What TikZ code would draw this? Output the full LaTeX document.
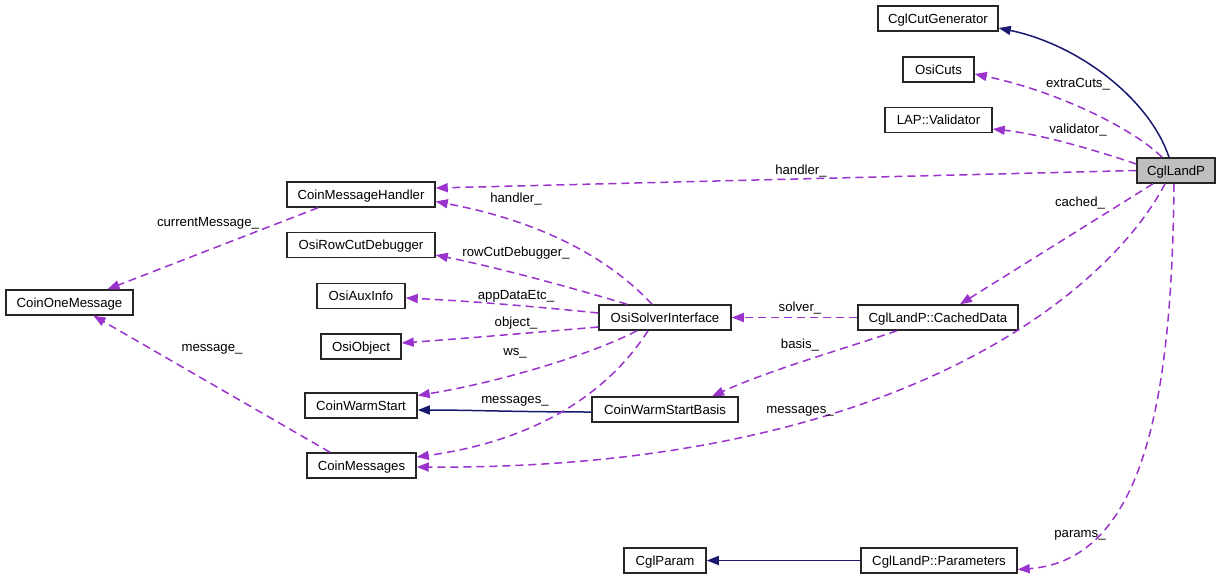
\documentclass[tikz,border=0pt]{standalone}
\usepackage{fontspec}
\setmainfont{Liberation Sans}
\usetikzlibrary{arrows.meta,calc}
\definecolor{edgepurple}{HTML}{9A32CD}
\definecolor{inhnavy}{HTML}{191970}
\definecolor{boxgray}{HTML}{BFBFBF}
\begin{document}
\begin{tikzpicture}[x=1pt,y=-1pt,
  cls/.style={draw=black!85, line width=1.5pt, fill=white, inner sep=0pt,
    minimum height=25pt, text height=11pt, text depth=2pt,
    font=\fontsize{13.2}{15}\selectfont},
  mem/.style={draw=edgepurple, line width=1.5pt, dash pattern=on 8pt off 5pt,
    -{Triangle[length=12pt,width=9pt,fill=edgepurple]}},
  inh/.style={draw=inhnavy, line width=1.5pt,
    -{Triangle[length=12pt,width=9pt,fill=inhnavy]}},
  lbl/.style={font=\fontsize{13.2}{15}\selectfont, inner sep=0pt}]
\useasboundingbox (0,0) rectangle (1221,579);
\fill[white] (0,0) rectangle (1221,579);

% nodes
\node[cls, minimum width=120pt] (CCG) at (938,18.5) {CglCutGenerator};
\node[cls, minimum width=71pt] (OC) at (938.5,69.5) {OsiCuts};
\node[cls, minimum width=107pt] (LAP) at (938.5,120) {LAP::Validator};
\node[cls, minimum width=78pt, fill=boxgray] (CLP) at (1176,170.5) {CglLandP};
\node[cls, minimum width=148pt] (CMH) at (361,194.5) {CoinMessageHandler};
\node[cls, minimum width=148pt] (ORCD) at (361,245) {OsiRowCutDebugger};
\node[cls, minimum width=127pt] (COM) at (69.5,302.5) {CoinOneMessage};
\node[cls, minimum width=88pt] (OAI) at (361,296) {OsiAuxInfo};
\node[cls, minimum width=80pt] (OO) at (361,346.5) {OsiObject};
\node[cls, minimum width=112pt] (CWS) at (361,405.5) {CoinWarmStart};
\node[cls, minimum width=109pt] (CM) at (361.5,465.5) {CoinMessages};
\node[cls, minimum width=132pt] (OSI) at (665,317.5) {OsiSolverInterface};
\node[cls, minimum width=146pt] (CWSB) at (665,409.5) {CoinWarmStartBasis};
\node[cls, minimum width=160pt] (CD) at (938,317.5) {CglLandP::CachedData};
\node[cls, minimum width=82pt] (CP) at (665,560.5) {CglParam};
\node[cls, minimum width=156pt] (PAR) at (939,560.5) {CglLandP::Parameters};

% inheritance edges
\draw[inh] ([xshift=-7pt]CLP.north) .. controls (1150,100) and (1080,45) .. ([yshift=-9.5pt]CCG.east);
\draw[inh] ([yshift=-2.5pt]CWSB.west) .. controls (520,412) and (470,410) .. ([yshift=-4.5pt]CWS.east);
\draw[inh] (PAR.west) -- (CP.east);

% member edges from CglLandP
\draw[mem] ([xshift=-14pt]CLP.north) .. controls (1135,130) and (1060,92) .. ([yshift=-4.5pt]OC.east);
\node[lbl] (lExtra) at (1078,84) {extraCuts\_};
\draw[mem] ([yshift=6.5pt]CLP.west) .. controls (1095,150) and (1040,134) .. ([yshift=-9pt]LAP.east);
\node[lbl] (lValid) at (1078,130) {validator\_};
\draw[mem] (CLP.west) -- ([yshift=6.5pt]CMH.east);
\node[lbl] (lHand1) at (801,171) {handler\_};
\draw[mem] ([xshift=-23pt]CLP.south) -- ([xshift=22pt]CD.north);
\node[lbl] (lCached) at (1080,203) {cached\_};
\draw[mem] ([xshift=-11pt]CLP.south) .. controls (1110,290) and (900,470) .. ([yshift=-1.5pt]CM.east);
\node[lbl] (lMsg1) at (800,411) {messages\_};
\draw[mem] ([xshift=-2pt]CLP.south) .. controls (1172,380) and (1150,560) .. ([yshift=-9pt]PAR.east);
\node[lbl] (lParams) at (1080,535) {params\_};

% CoinOneMessage edges
\draw[mem] ([xshift=-43pt]CMH.south) -- ([xshift=38pt]COM.north);
\node[lbl] (lCur) at (208,223) {currentMessage\_};
\draw[mem] ([xshift=-31.5pt]CM.north) -- ([xshift=24pt]COM.south);
\node[lbl] (lMsgOne) at (212,349) {message\_};

% OsiSolverInterface edges
\draw[mem] ([xshift=-13pt]OSI.north) .. controls (620,270) and (560,225) .. ([yshift=-7pt]CMH.east);
\node[lbl] (lHand2) at (516,199) {handler\_};
\draw[mem] ([xshift=-38pt]OSI.north) .. controls (580,290) and (500,268) .. ([yshift=-10pt]ORCD.east);
\node[lbl] (lRow) at (516,253) {rowCutDebugger\_};
\draw[mem] ([yshift=4.5pt]OSI.west) .. controls (540,307) and (470,301) .. ([yshift=-2pt]OAI.east);
\node[lbl] (lApp) at (516,296) {appDataEtc\_};
\draw[mem] ([yshift=-9.5pt]OSI.west) .. controls (540,332) and (470,338) .. ([yshift=3.5pt]OO.east);
\node[lbl] (lObj) at (516,323) {object\_};
\draw[mem] ([xshift=-28pt]OSI.south) .. controls (590,355) and (500,382) .. ([yshift=10pt]CWS.east);
\node[lbl] (lWs) at (515,353) {ws\_};
\draw[mem] ([xshift=-17pt]OSI.south) .. controls (610,390) and (540,440) .. ([yshift=8.5pt]CM.east);
\node[lbl] (lMsg2) at (515,401) {messages\_};

% CachedData edges
\draw[mem] (CD.west) -- (OSI.east);
\node[lbl] (lSolver) at (800,308) {solver\_};
\draw[mem] ([xshift=-41pt]CD.south) .. controls (840,350) and (770,370) .. ([xshift=47pt]CWSB.north);
\node[lbl] (lBasis) at (800,345) {basis\_};
\end{tikzpicture}
\end{document}
